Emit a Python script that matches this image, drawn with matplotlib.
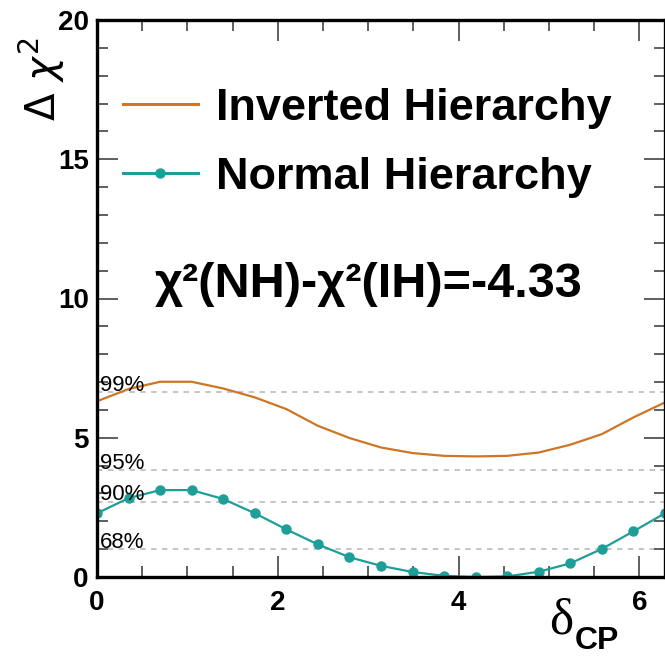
import matplotlib
matplotlib.use('Agg')
from matplotlib import pyplot as plt
from matplotlib.ticker import MultipleLocator

# delta_CP scan points (radians)
delta_cp = [0.000, 0.349, 0.698, 1.047, 1.396, 1.745, 2.094, 2.443, 2.793, 3.142,
            3.491, 3.840, 4.189, 4.538, 4.887, 5.236, 5.585, 5.934, 6.283]

# delta chi^2
chi2_ih = [6.31, 6.75, 7.01, 7.01, 6.77, 6.45, 6.03, 5.43, 4.99, 4.65,
           4.45, 4.35, 4.33, 4.35, 4.47, 4.75, 5.13, 5.73, 6.27]
chi2_nh = [2.29, 2.83, 3.12, 3.12, 2.80, 2.29, 1.71, 1.17, 0.71, 0.40,
           0.18, 0.04, 0.00, 0.02, 0.19, 0.49, 1.01, 1.64, 2.29]

# confidence levels (1 dof)
cl_values = [1.00, 2.71, 3.84, 6.63]
cl_labels = ['68%', '90%', '95%', '99%']

orange = '#CF7526'
teal = '#1E9E99'

plt.rcParams['font.family'] = ['Liberation Sans', 'DejaVu Sans']

fig = plt.figure(figsize=(6.65, 6.56), dpi=100)
ax = fig.add_axes([97 / 665, 79 / 656, 568 / 665, 557 / 656])

for lvl, lab in zip(cl_values, cl_labels):
    ax.axhline(lvl, color='#C0C0C0', ls=(0, (3, 3)), lw=1.3, zorder=1)
    ax.text(0.03, lvl + 0.05, lab, fontsize=16, va='baseline', ha='left', zorder=3)

ax.plot(delta_cp, chi2_ih, color=orange, lw=1.6, label='Inverted Hierarchy', zorder=2)
ax.plot(delta_cp, chi2_nh, color=teal, lw=1.6, marker='o', ms=6.5,
        label='Normal Hierarchy', zorder=2)

ax.set_xlim(0, 6.2832)
ax.set_ylim(0, 20)

ax.xaxis.set_major_locator(MultipleLocator(2))
ax.xaxis.set_minor_locator(MultipleLocator(0.5))
ax.yaxis.set_major_locator(MultipleLocator(5))
ax.yaxis.set_minor_locator(MultipleLocator(1))
ax.tick_params(which='both', direction='in', top=True, right=True, color='#444444', width=1.2)
ax.tick_params(which='major', length=15, labelsize=20)
ax.tick_params(axis='x', which='major', pad=9)
ax.tick_params(axis='y', which='major', pad=6)
ax.tick_params(which='minor', length=8)
for t in ax.get_xticklabels() + ax.get_yticklabels():
    t.set_fontweight('bold')

for s in ax.spines.values():
    s.set_linewidth(2.4)

leg = ax.legend(loc='upper left', bbox_to_anchor=(0.045, 0.878), frameon=False,
                prop={'size': 32.5, 'weight': 'bold'}, handlelength=1.68,
                handletextpad=0.38, labelspacing=0.62, borderaxespad=0, borderpad=0)
for h in leg.legend_handles:
    h.set_linewidth(2.2)

ax.text(0.478, 0.525, 'χ²(NH)-χ²(IH)=-4.33', transform=ax.transAxes, fontsize=35,
        fontweight='bold', ha='center', va='center')

fig.text(42 / 665, 1 - 79 / 656, r'$\Delta\ \chi^2$', rotation=90, fontsize=29,
         ha='center', va='center')
fig.text(549 / 665, 1 - 634 / 656, 'δ', fontsize=37, family='Liberation Serif',
         ha='left', va='baseline')
fig.text(575 / 665, 1 - 649 / 656, 'CP', fontsize=23, fontweight='bold',
         ha='left', va='baseline')

fig.savefig('out.png', dpi=100)
